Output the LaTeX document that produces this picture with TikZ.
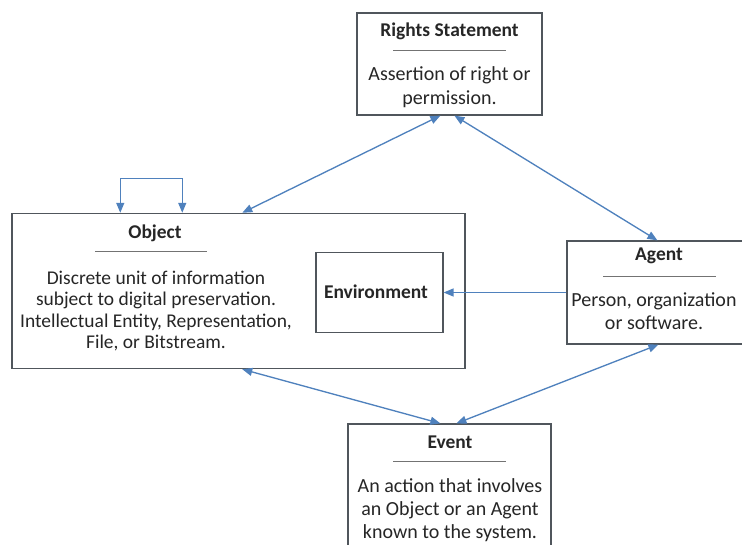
\documentclass[tikz,border=0pt]{standalone}
\usepackage{fontspec}
\setmainfont{Carlito}
\usetikzlibrary{arrows.meta,positioning,calc}
\definecolor{linkblue}{RGB}{79,129,189}
\definecolor{framegray}{RGB}{80,86,92}

\begin{document}
\begin{tikzpicture}[
    x=0.75pt, y=-0.75pt,
    box/.style={draw=framegray, line width=0.9pt, fill=white, inner sep=0pt},
    ttl/.style={font=\fontsize{14.6}{17}\selectfont\bfseries, text=black!85, inner sep=1pt},
    txt/.style={font=\fontsize{15}{17.5}\selectfont, text=black!85, align=center, inner sep=1pt},
    rule/.style={draw=black!55, line width=0.6pt},
    arr/.style={-{Triangle[length=7.5pt, width=6pt]}, draw=linkblue, line width=1pt},
    dblarr/.style={{Triangle[length=7.5pt, width=6pt]}-{Triangle[length=7.5pt, width=6pt]}, draw=linkblue, line width=1pt}
]
\useasboundingbox (0,0) rectangle (742,544);

% boxes
\node[box, minimum width=185*0.75pt, minimum height=102*0.75pt] (Rights) at (449.5,64) {};
\node[box, minimum width=453*0.75pt, minimum height=155*0.75pt, line width=1.1pt] (Object) at (238.5,291) {};
\node[box, minimum width=127*0.75pt, minimum height=80*0.75pt] (Env) at (379.5,292.5) {};
\node[box, minimum width=184*0.75pt, minimum height=103*0.75pt] (Agent) at (659,292.5) {};
\node[box, minimum width=203*0.75pt, minimum height=136*0.75pt] (Event) at (449.5,492) {};

% texts
\node[ttl] (RightsT) at (449.5,31) {Rights Statement};
\draw[rule] (393,50) -- (506,50);
\node[txt] (RightsD) at (449.5,87) {Assertion of right or\\permission.};

\node[ttl] (ObjectT) at (155,233) {Object};
\draw[rule] (95,251) -- (207,251);
\node[txt, font=\fontsize{14.6}{16}\selectfont] (ObjectD) at (156,311) {Discrete unit of information\\subject to digital preservation.\\Intellectual Entity, Representation,\\File, or Bitstream.};

\node[ttl] (EnvT) at (376,292) {Environment};

\node[ttl] (AgentT) at (659,256) {Agent};
\draw[rule] (603,276) -- (716,276);
\node[txt] (AgentD) at (654,311) {Person, organization\\or software.};

\node[ttl] (EventT) at (450,442) {Event};
\draw[rule] (393,461) -- (506,461);
\node[txt] (EventD) at (450,510) {An action that involves\\an Object or an Agent\\known to the system.};

% connectors
\draw[dblarr] ($(Object.north west)+(109,0)$) -- ++(0,-34) -| ($(Object.north west)+(171,0)$);
\draw[dblarr] ($(Object.north west)+(231,0)$) -- ($(Rights.south west)+(84,0)$);
\draw[dblarr] ($(Rights.south west)+(98,0)$) -- ($(Agent.north west)+(91,0)$);
\draw[arr] (Agent.west) -- (Env.east);
\draw[dblarr] ($(Agent.south west)+(92,0)$) -- ($(Event.north west)+(109,0)$);
\draw[dblarr] ($(Object.south west)+(231,0)$) -- ($(Event.north west)+(93,0)$);
\end{tikzpicture}
\end{document}
